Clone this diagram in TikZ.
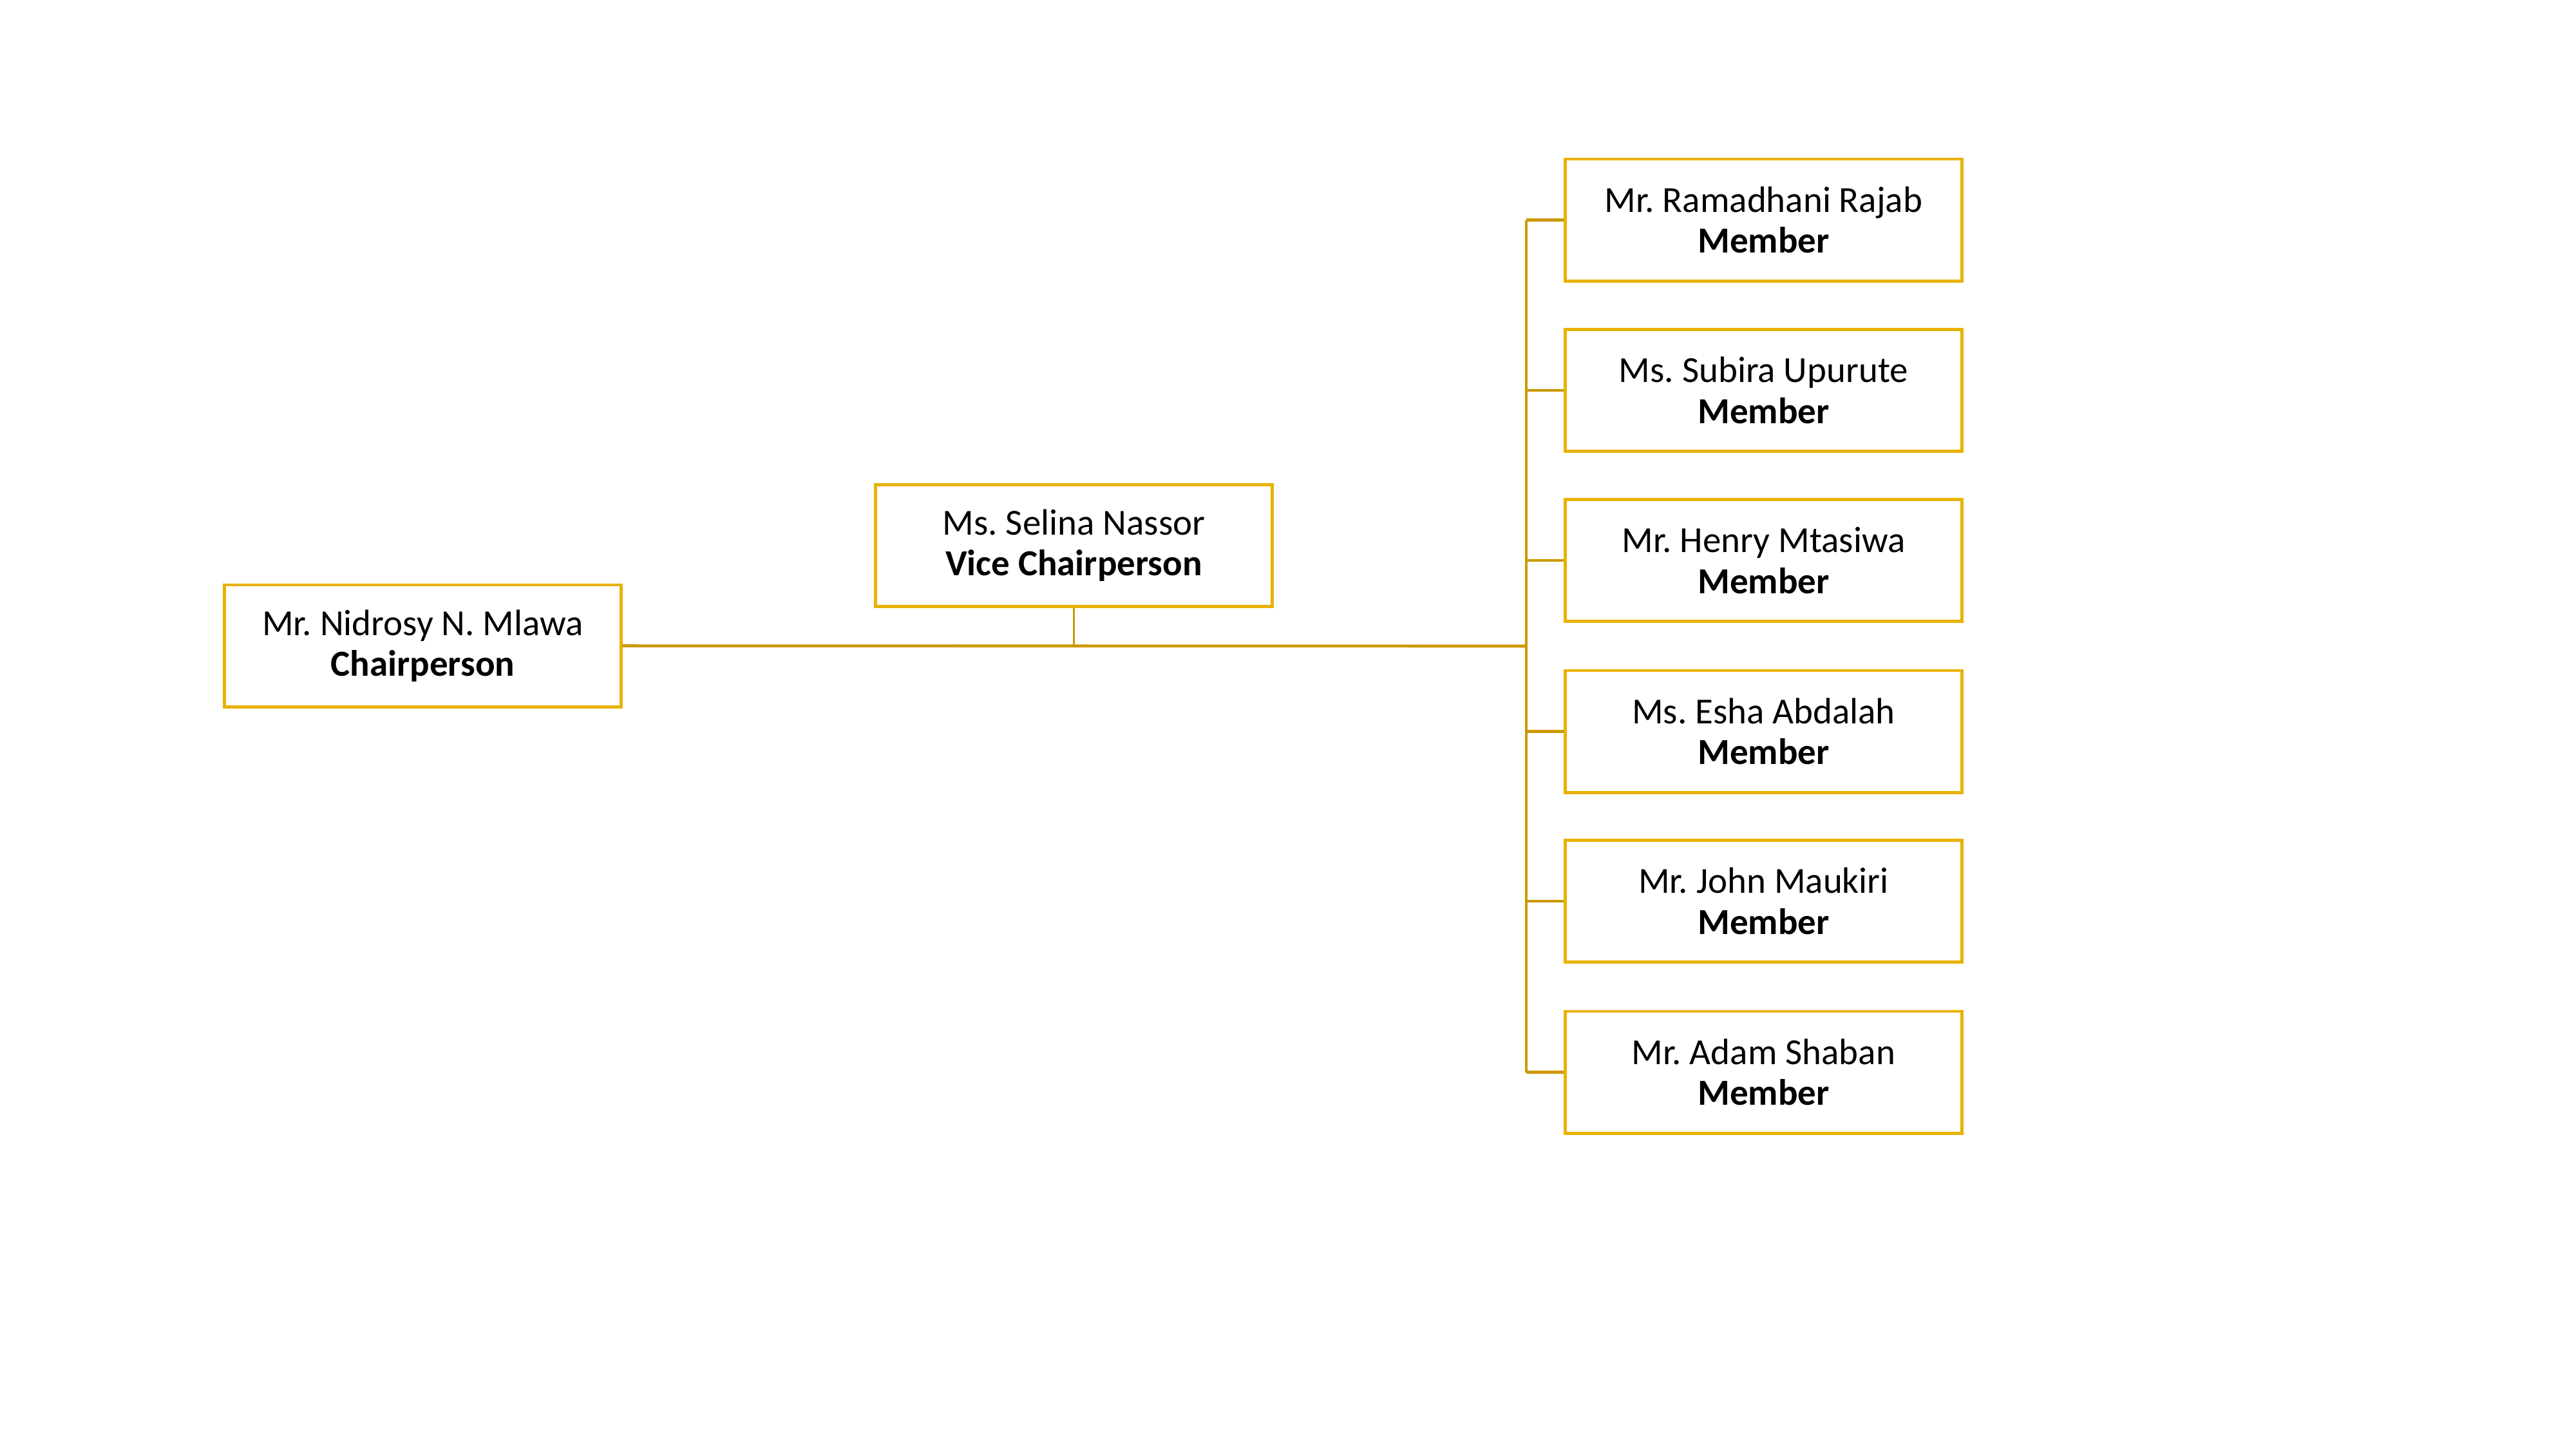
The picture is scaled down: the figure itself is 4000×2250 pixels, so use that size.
\documentclass[tikz,border=0pt]{standalone}
\usepackage{fontspec}
\setmainfont{Carlito}
\definecolor{boxgold}{RGB}{232,178,0}
\definecolor{linegold}{RGB}{204,153,0}
\begin{document}
\frenchspacing
\begin{tikzpicture}[x=0.01cm,y=-0.01cm,
  person/.style={draw=boxgold,line width=1.4pt,fill=white,rectangle,
    minimum width=6.15cm,minimum height=1.89cm,align=center,
    font=\fontsize{16.2}{18}\selectfont,inner sep=0pt},
  conn/.style={draw=linegold,line width=1.3pt}]
\useasboundingbox[fill=white] (0,0) rectangle (4000,2250);
\node[person] (chair) at (656.5,1002.5) {Mr. Nidrosy N. Mlawa\\\textbf{Chairperson}};
\node[person] (vice) at (1667.5,847) {Ms. Selina Nassor\\\textbf{Vice Chairperson}};
\node[person] (m1) at (2738.5,341.5) {Mr. Ramadhani Rajab\\\textbf{Member}};
\node[person] (m2) at (2738.5,606) {Ms. Subira Upurute\\\textbf{Member}};
\node[person] (m3) at (2738.5,870) {Mr. Henry Mtasiwa\\\textbf{Member}};
\node[person] (m4) at (2738.5,1135.5) {Ms. Esha Abdalah\\\textbf{Member}};
\node[person] (m5) at (2738.5,1399) {Mr. John Maukiri\\\textbf{Member}};
\node[person] (m6) at (2738.5,1664.5) {Mr. Adam Shaban\\\textbf{Member}};
\coordinate (sp) at (2370,1003);
\draw[conn] (chair.east) -- (sp);
\draw[conn,line width=1pt] (vice.south) -- (vice.south |- sp);
\draw[conn] (m1.west -| sp) -- (m6.west -| sp);
\foreach \m in {m1,m2,m3,m4,m5,m6}{
  \draw[conn] (\m.west) -- (\m.west -| sp);
}
\end{tikzpicture}
\end{document}
